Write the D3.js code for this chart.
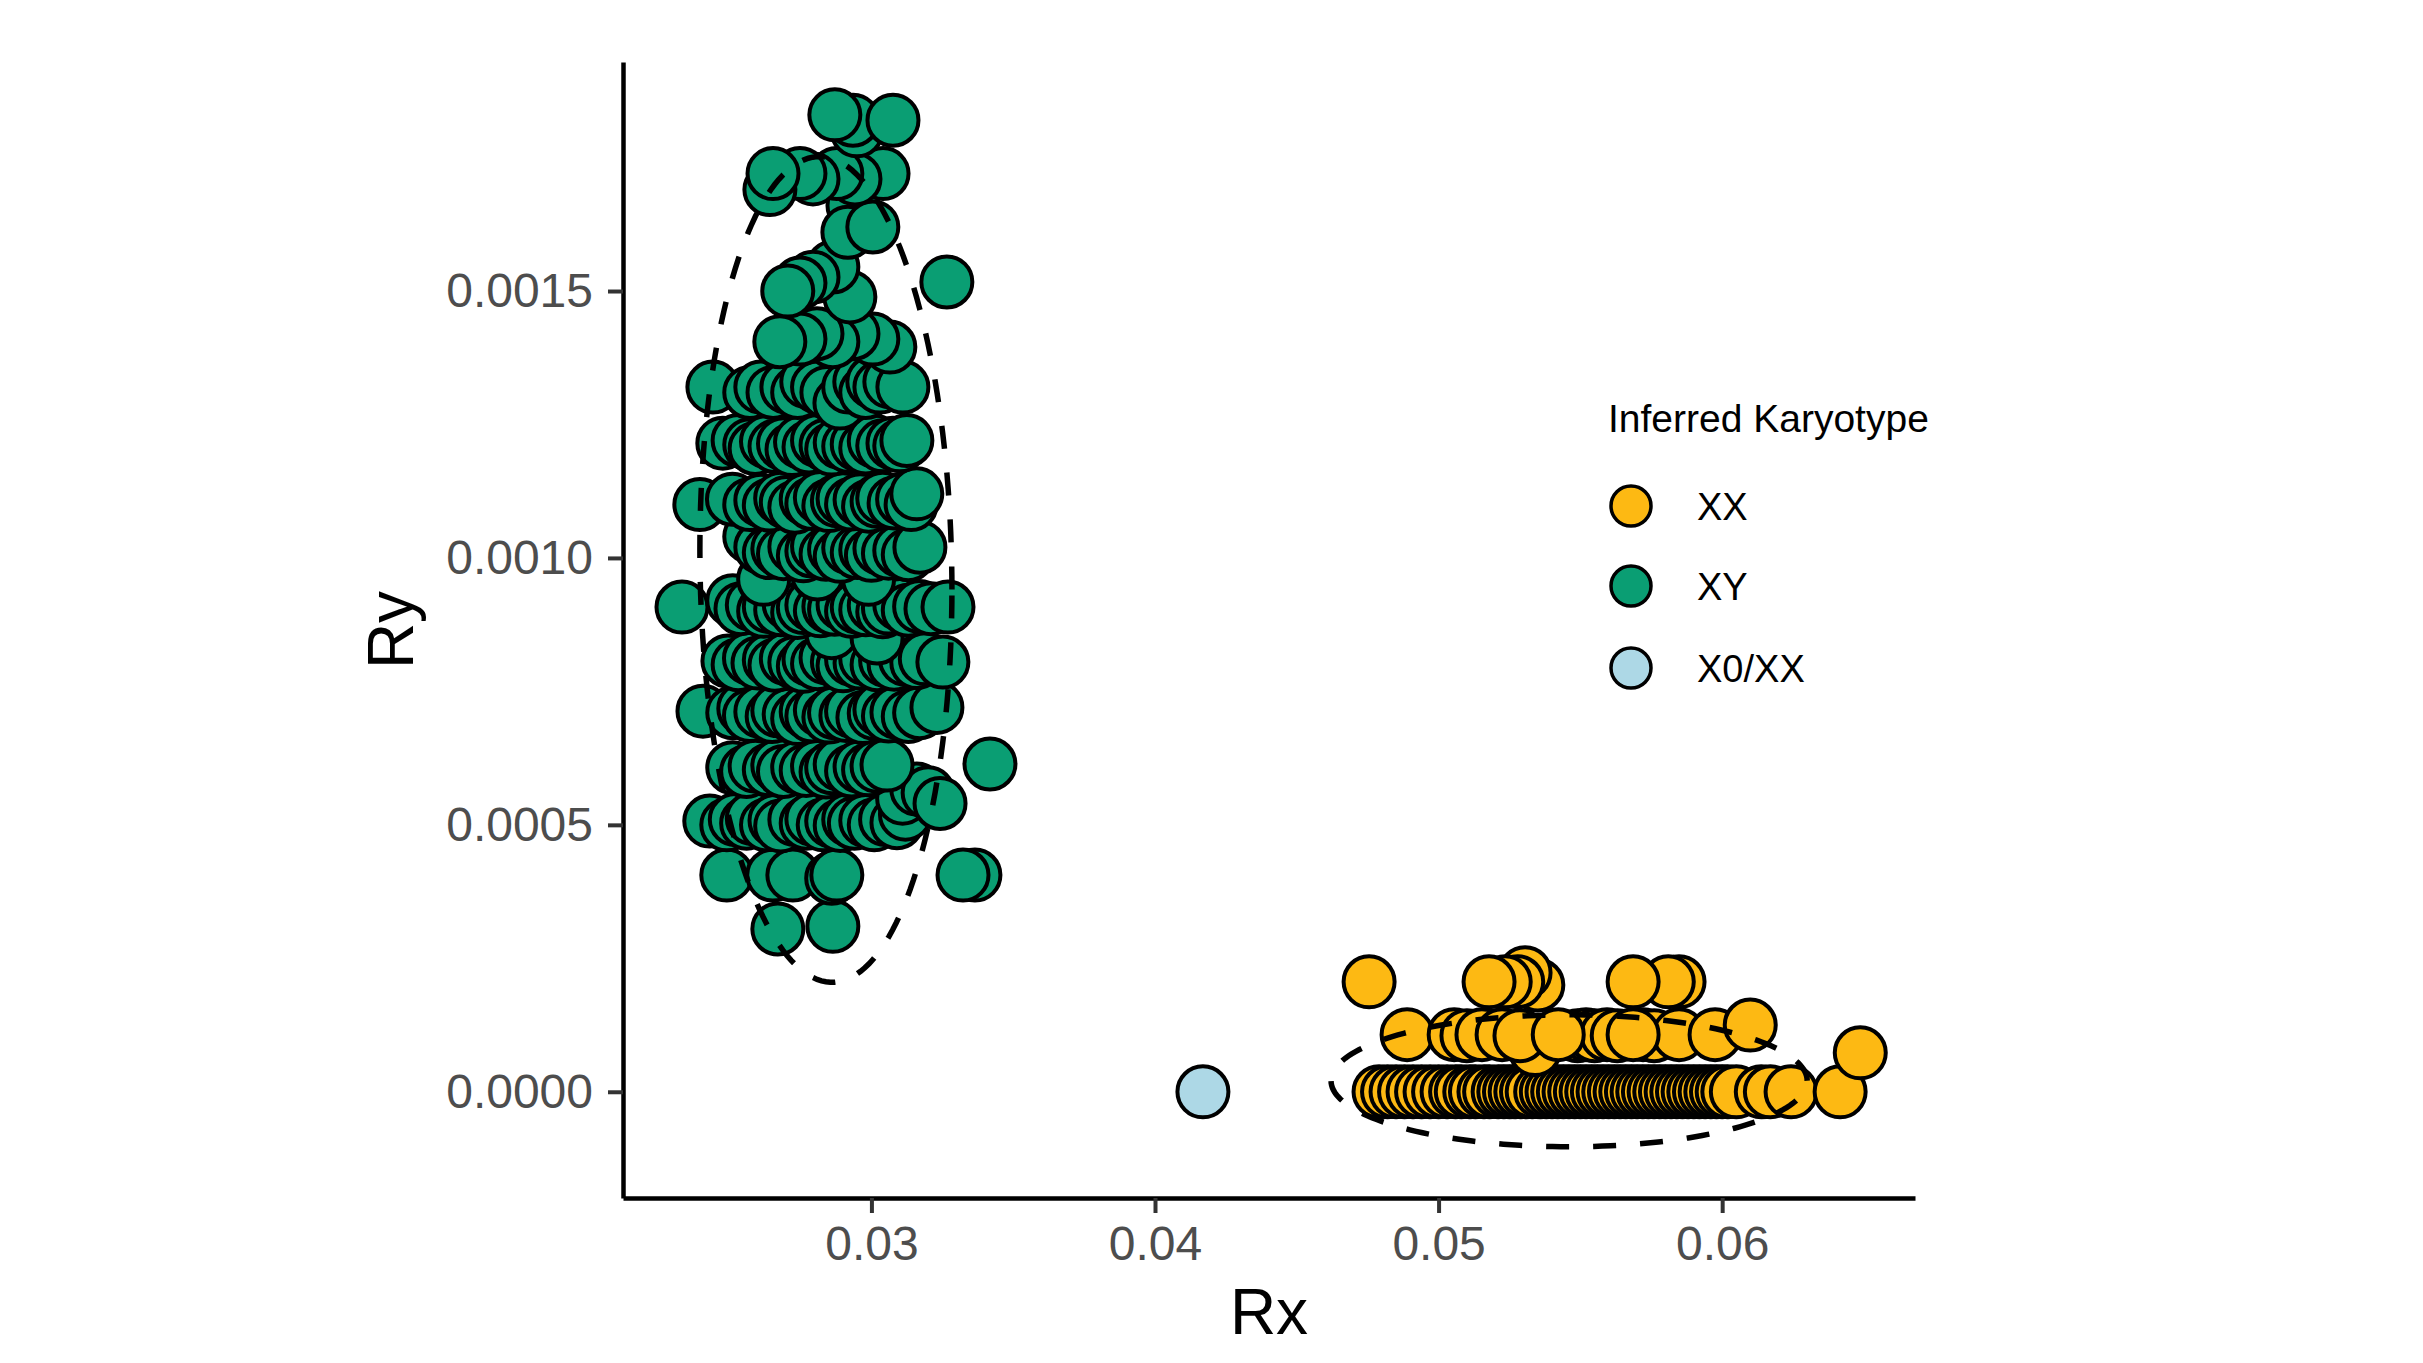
<!DOCTYPE html>
<html>
<head>
<meta charset="utf-8">
<script src="https://cdn.jsdelivr.net/npm/d3@7"></script>
<style>
  body { margin: 0; background: #fff; }
  svg text { font-family: "Liberation Sans", Arial, Helvetica, sans-serif; }
</style>
</head>
<body>
<script>
// ---- data ----
const groups = ["XX", "XY", "X0/XX"];
const groupColors = ["#FDB913", "#0A9E73", "#ADD8E6"];

// XX (female) points, [Rx, Ry]
const xxPoints = [
  [0.0479,0],[0.0482,0],[0.0485,0],[0.0488,0],[0.0491,0],[0.0494,0],[0.0497,0],[0.05,0],
  [0.0503,0],[0.0506,0],[0.0508,0],[0.0511,0],[0.0513,0],[0.0516,0],[0.0518,0],[0.0521,0],
  [0.0523,0],[0.0525,0],[0.0527,0],[0.0529,0],[0.0531,0],[0.0533,0],[0.0536,0],[0.0538,0],
  [0.054,0],[0.0542,0],[0.0544,0],[0.0546,0],[0.0548,0],[0.055,0],[0.0552,0],[0.0554,0],
  [0.0556,0],[0.0558,0],[0.056,0],[0.0562,0],[0.0564,0],[0.0566,0],[0.0568,0],[0.057,0],
  [0.0572,0],[0.0574,0],[0.0576,0],[0.0578,0],[0.058,0],[0.0582,0],[0.0584,0],[0.0586,0],
  [0.0588,0],[0.059,0],[0.0592,0],[0.0594,0],[0.0596,0],[0.0598,0],[0.06,0],[0.0602,0],
  [0.0605,0],[0.06138,0],[0.0617,0],[0.06243,0],[0.06416,0],[0.06487,0.000073],
  [0.0534,0.000079],[0.04889,0.000107],[0.05055,0.000107],[0.051,0.000105],[0.05153,0.000107],
  [0.05224,0.000107],[0.05287,0.000105],[0.0549,0.000105],[0.0552,0.000107],[0.0555,0.000105],
  [0.05594,0.000107],[0.0563,0.000105],[0.05721,0.000107],[0.0576,0.000105],[0.05848,0.000107],
  [0.05975,0.000107],[0.06099,0.000125],[0.05686,0.000107],[0.05422,0.000107],
  [0.04755,0.000206],[0.0535,0.0002],[0.05305,0.000223],[0.05279,0.000206],[0.05235,0.000206],
  [0.05178,0.000206],[0.05848,0.000206],[0.0581,0.000206],[0.05686,0.000206]
];

// XY (male) points, [Rx, Ry]
const xyPoints = [
  [0.0267,0.000305],[0.02864,0.00031],
  [0.0249,0.000406],[0.02652,0.000406],[0.02723,0.000406],[0.0286,0.0004],[0.02878,0.000406],
  [0.03365,0.000406],[0.03323,0.000406],
  [0.0243,0.000507],[0.0249,0.0005],[0.0252,0.00051],[0.0256,0.000503],[0.0258,0.000512],[0.0263,0.0005],
  [0.0266,0.000508],[0.0268,0.000498],[0.0273,0.00051],[0.0277,0.000503],[0.0279,0.000511],[0.0283,0.0005],
  [0.0286,0.000507],[0.0289,0.000499],[0.0292,0.00051],[0.0294,0.000503],[0.0298,0.000508],[0.0301,0.0005],
  [0.0305,0.00051],[0.0309,0.000504],[0.0312,0.00052],
  [0.0311,0.00055],[0.0316,0.000567],[0.032,0.00056],[0.03242,0.00054],
  [0.02511,0.000607],[0.0256,0.0006],[0.0259,0.00061],[0.0264,0.000603],[0.0267,0.000611],[0.0269,0.0006],
  [0.0274,0.000608],[0.0277,0.000602],[0.0281,0.00061],[0.0284,0.000599],[0.0286,0.000607],[0.0289,0.000613],
  [0.0293,0.000601],[0.0296,0.000609],[0.0299,0.000603],[0.0302,0.00061],[0.03055,0.000612],
  [0.03418,0.000614],
  [0.02406,0.000713],[0.02511,0.00071],[0.0255,0.000718],[0.0257,0.000705],[0.0261,0.000712],[0.0265,0.000703],
  [0.0267,0.000714],[0.0271,0.000707],[0.0274,0.000699],[0.0277,0.000712],[0.0279,0.000704],[0.0282,0.000715],
  [0.0285,0.000702],[0.0287,0.00071],[0.0291,0.000705],[0.0293,0.000713],[0.0297,0.000701],[0.0301,0.000709],
  [0.0303,0.000716],[0.0306,0.000704],[0.0309,0.000711],[0.0313,0.000703],[0.0317,0.00071],[0.03231,0.00072],
  [0.02494,0.000807],[0.0253,0.0008],[0.0257,0.000812],[0.026,0.000803],[0.0264,0.000809],[0.0266,0.000799],
  [0.027,0.000811],[0.0273,0.000804],[0.0276,0.000797],[0.0278,0.00081],[0.0281,0.000802],[0.0284,0.000813],
  [0.0288,0.000805],[0.029,0.000798],[0.0293,0.00081],[0.0296,0.000803],[0.0298,0.000811],[0.0302,0.0008],
  [0.0305,0.000808],[0.0308,0.000801],[0.0312,0.00081],[0.0316,0.000804],[0.0319,0.000811],[0.03252,0.000805],
  [0.0286,0.00086],[0.0302,0.00085],
  [0.02332,0.000908],[0.02511,0.00092],[0.0254,0.000905],[0.0258,0.000912],[0.0262,0.0009],[0.0264,0.000909],
  [0.0268,0.000903],[0.0271,0.000914],[0.0274,0.000898],[0.0276,0.000907],[0.0279,0.000912],[0.0282,0.000901],
  [0.0285,0.000909],[0.0287,0.000904],[0.029,0.000913],[0.0293,0.0009],[0.0295,0.000908],[0.0298,0.000903],
  [0.0301,0.000911],[0.0304,0.000899],[0.0306,0.000906],[0.031,0.000913],[0.0313,0.000902],[0.0317,0.000909],
  [0.0321,0.000905],[0.0327,0.000908],
  [0.0262,0.00096],[0.0281,0.00097],[0.0299,0.00096],
  [0.02571,0.00104],[0.0261,0.00102],[0.0264,0.00101],[0.0267,0.001017],[0.0269,0.001008],[0.0273,0.001021],
  [0.0276,0.001004],[0.0279,0.001013],[0.0281,0.001022],[0.0284,0.001007],[0.0287,0.001016],[0.0289,0.001003],
  [0.0292,0.001019],[0.0295,0.00101],[0.0298,0.001015],[0.03,0.001005],[0.0303,0.001018],[0.0306,0.001009],
  [0.031,0.001014],[0.0313,0.001006],[0.03171,0.00102],
  [0.02395,0.0011],[0.0251,0.00111],[0.02571,0.0011],[0.0261,0.001108],[0.0264,0.001099],[0.0268,0.001112],
  [0.027,0.001104],[0.0273,0.001095],[0.0277,0.00111],[0.0279,0.001102],[0.0282,0.001113],[0.0285,0.001098],
  [0.0288,0.001107],[0.029,0.001111],[0.0293,0.001101],[0.0296,0.001109],[0.0299,0.001097],[0.0302,0.001106],
  [0.0304,0.001112],[0.0308,0.001103],[0.0311,0.00111],[0.0314,0.0011],[0.0316,0.00112],
  [0.02476,0.001215],[0.0253,0.00122],[0.02571,0.001212],[0.0259,0.001205],[0.0263,0.001218],[0.0266,0.001209],
  [0.0269,0.001214],[0.0272,0.001203],[0.0275,0.001217],[0.0278,0.001208],[0.0281,0.00122],[0.0284,0.001211],
  [0.0286,0.001204],[0.0289,0.001216],[0.0292,0.001209],[0.0295,0.001213],[0.0298,0.001206],[0.0301,0.001219],
  [0.0304,0.00121],[0.03076,0.001215],[0.031,0.00121],[0.03125,0.00122],
  [0.02441,0.00132],[0.02571,0.00131],[0.0261,0.00132],[0.02653,0.00131],[0.02702,0.00132],[0.0274,0.00131],
  [0.02772,0.00133],[0.0281,0.00132],[0.02843,0.00131],[0.02889,0.00129],[0.0292,0.00132],[0.02959,0.00133],
  [0.0298,0.00131],[0.03005,0.00133],[0.0303,0.00132],[0.03065,0.00133],[0.03111,0.00132],
  [0.03065,0.001395],[0.03005,0.00141],[0.02935,0.00142],[0.02864,0.001405],[0.02808,0.00142],
  [0.02748,0.00141],[0.02677,0.001405],
  [0.02924,0.001489],[0.02864,0.001545],[0.02794,0.001526],[0.02748,0.001515],[0.02705,0.0015],
  [0.03266,0.001517],
  [0.02935,0.00166],[0.02917,0.00161],[0.03005,0.00162],
  [0.03041,0.00172],[0.02942,0.00171],[0.02878,0.00172],[0.02794,0.00171],[0.02748,0.00172],
  [0.02642,0.00169],[0.02653,0.00172],
  [0.02949,0.0018],[0.02935,0.00182],[0.02871,0.00183],[0.03076,0.00182]
];

// X0/XX point
const x0Points = [[0.04169, 0.0]];

// 95% ellipses: centre, horizontal semi-axis, vertical semi-axis, shear
const ellipseGroups = ["XX", "XY"];
const ellipseCx = [0.054603, 0.028395];
const ellipseCy = [0.0000206, 0.0009785];
const ellipseAx = [0.008395, 0.004444];
const ellipseBy = [0.0001236, 0.0007725];
const ellipseShear = [0, -0.0000375];

const xTicks = [0.03, 0.04, 0.05, 0.06];
const yTicks = [0, 0.0005, 0.001, 0.0015];

// ---- layout ----
const W = 2423, H = 1363;
const panel = { left: 623, right: 1915, top: 62, bottom: 1198 };

const svg = d3.select("body").append("svg")
    .attr("width", W)
    .attr("height", H);

const x = d3.scaleLinear()
    .domain([0.02124, 0.0668])
    .range([panel.left, panel.right]);

const y = d3.scaleLinear()
    .domain([-0.000199, 0.001929])
    .range([panel.bottom, panel.top]);

const color = d3.scaleOrdinal().domain(groups).range(groupColors);

// points
const ptR = 25.5;
const layers = [["XX", xxPoints], ["XY", xyPoints], ["X0/XX", x0Points]];
layers.forEach(([g, pts]) => {
    svg.append("g")
        .selectAll("circle")
        .data(pts)
        .join("circle")
        .attr("cx", d => x(d[0]))
        .attr("cy", d => y(d[1]))
        .attr("r", ptR)
        .attr("fill", color(g))
        .attr("stroke", "#000")
        .attr("stroke-width", 4);
});

// ellipses
const angles = d3.range(0, 361, 2).map(a => a * Math.PI / 180);
const ellLine = d3.line().x(d => x(d[0])).y(d => y(d[1]));
ellipseGroups.forEach((g, i) => {
    const pts = angles.map(t => [
        ellipseCx[i] + ellipseAx[i] * Math.cos(t),
        ellipseCy[i] + ellipseBy[i] * Math.sin(t) + ellipseShear[i] * Math.cos(t)
    ]);
    svg.append("path")
        .attr("d", ellLine(pts))
        .attr("fill", "none")
        .attr("stroke", "#000")
        .attr("stroke-width", 5.5)
        .attr("stroke-dasharray", "23,24");
});

// axes
const xAxis = g => g
    .attr("transform", `translate(0,${panel.bottom})`)
    .call(d3.axisBottom(x).tickValues(xTicks).tickFormat(d3.format(".2f"))
        .tickSize(15).tickPadding(13).tickSizeOuter(0));

const yAxis = g => g
    .attr("transform", `translate(${panel.left},0)`)
    .call(d3.axisLeft(y).tickValues(yTicks).tickFormat(d3.format(".4f"))
        .tickSize(15).tickPadding(15).tickSizeOuter(0));

[xAxis, yAxis].forEach(ax => {
    const g = svg.append("g").call(ax);
    g.select(".domain").attr("stroke", "#000").attr("stroke-width", 4.5);
    g.selectAll(".tick line").attr("stroke", "#333").attr("stroke-width", 4);
    g.selectAll(".tick text")
        .attr("fill", "#4D4D4D")
        .attr("font-size", 48)
        .attr("font-family", "Liberation Sans, Arial, Helvetica, sans-serif");
});

// axis titles
svg.append("text")
    .attr("x", (panel.left + panel.right) / 2)
    .attr("y", 1334)
    .attr("text-anchor", "middle")
    .attr("font-size", 64)
    .text("Rx");

svg.append("text")
    .attr("transform", `translate(413,${(panel.top + panel.bottom) / 2}) rotate(-90)`)
    .attr("text-anchor", "middle")
    .attr("font-size", 64)
    .text("Ry");

// legend
const legend = svg.append("g");
legend.append("text")
    .attr("x", 1608)
    .attr("y", 432)
    .attr("font-size", 39)
    .text("Inferred Karyotype");

const legendY = [506, 586, 668];
groups.forEach((g, i) => {
    legend.append("circle")
        .attr("cx", 1631)
        .attr("cy", legendY[i])
        .attr("r", 20)
        .attr("fill", color(g))
        .attr("stroke", "#000")
        .attr("stroke-width", 3.5);
    legend.append("text")
        .attr("x", 1697)
        .attr("y", legendY[i] + 14)
        .attr("font-size", 38)
        .text(g);
});
</script>
</body>
</html>
